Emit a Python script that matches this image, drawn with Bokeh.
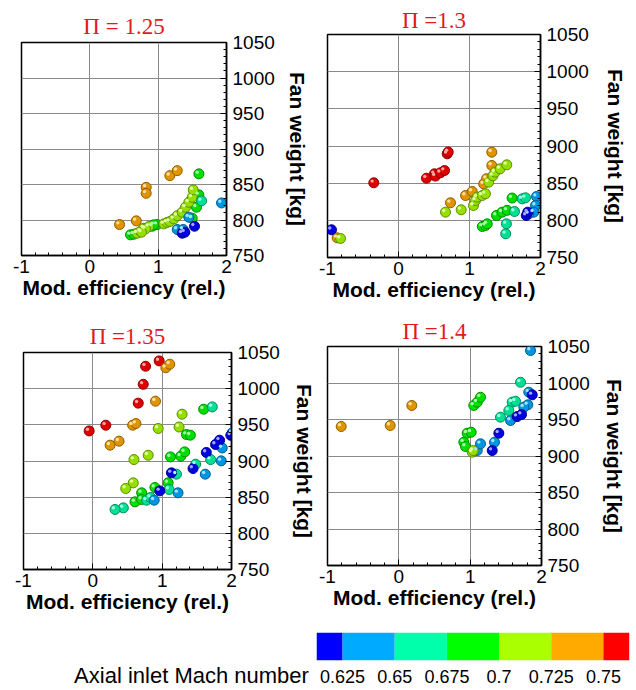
import numpy as np
from bokeh.plotting import figure
from bokeh.layouts import column, row
from bokeh.models import (Range1d, FixedTicker, LinearColorMapper, ColumnDataSource)
from bokeh.transform import transform
from bokeh.embed import file_html
from bokeh.resources import INLINE

# ---------------- data ----------------
palette = ["#0000ff", "#00aaff", "#00ffaa", "#00ff00", "#aaff00", "#ffaa00", "#ff0000"]
mach_low, mach_high = 0.6, 0.775
cb_edges = [0.6125, 0.625, 0.65, 0.675, 0.7, 0.725, 0.75, 0.7625]
cb_ticks = [0.625, 0.65, 0.675, 0.7, 0.725, 0.75]
cb_tick_labels = ["0.625", "0.65", "0.675", "0.7", "0.725", "0.75"]
cb_title = "Axial inlet Mach number"

titles = ["\u03a0 = 1.25", "\u03a0 =1.3", "\u03a0 =1.35", "\u03a0 =1.4"]
x_ticks = [-1, 0, 1, 2]
y_ticks = [750, 800, 850, 900, 950, 1000, 1050]

# Pi = 1.25
eff_125 = [0.435, 0.680, 0.825, 0.825, 1.171, 1.279,
           1.596, 1.595, 1.561, 1.498, 0.986, 0.913, 0.595, 0.644, 0.936,
           0.693, 0.741, 0.790, 0.864, 0.815, 0.756, 1.083, 1.130, 1.171, 1.229, 1.279,
           1.352, 1.400, 1.449, 1.498, 1.513,
           1.635,
           1.927, 1.449, 1.279, 1.366,
           1.352, 1.390, 1.532]
wt_125 = [793.6, 798.8, 846.0, 837.6, 862.5, 869.5,
          865.0, 835.4, 818.0, 802.5, 793.6, 791.2, 779.1, 780.0, 793.2,
          781.4, 784.0, 788.4, 790.8, 787.5, 782.8, 794.6, 796.5, 797.8, 801.6, 806.0,
          811.0, 818.0, 825.0, 832.0, 842.4,
          827.0,
          824.0, 803.9, 786.6, 786.6,
          781.4, 782.8, 791.2]
mach_125 = [0.74] * 6 + [0.69] * 9 + [0.71] * 16 + [0.66] + [0.64] * 4 + [0.62] * 3

# Pi = 1.3
eff_130 = [-0.348, 0.394, 0.507, 0.520, 0.592, 0.648, 0.686, 0.700,
           -0.864, 0.732, 0.944, 1.038, 1.200, 1.240, 1.314, 1.314,
           -0.817, 0.662, 0.883, 1.056, 1.085, 1.108, 1.180, 1.225, 1.270, 1.330, 1.360, 1.430, 1.525,
           1.180, 1.225, 1.250, 1.380, 1.460, 1.530, 1.600,
           1.634, 1.520, 1.510, 1.742, 1.789,
           1.944, 1.930, 1.905, 1.835,
           -0.944, 1.800, 1.820]
wt_130 = [850.5, 856.7, 862.6, 859.5, 864.0, 867.0, 889.5, 892.0,
          776.5, 823.6, 833.4, 838.8, 849.0, 856.0, 873.8, 891.7,
          775.6, 811.0, 814.2, 820.0, 826.7, 831.2, 833.4, 835.7, 851.3, 860.0, 864.8, 869.3, 874.7,
          791.7, 793.0, 795.3, 806.5, 811.0, 813.5, 830.0,
          811.9, 795.3, 781.9, 828.9, 830.3,
          832.0, 820.0, 811.0, 808.8,
          787.3, 806.5, 811.0]
mach_130 = [0.76] * 8 + [0.74] * 8 + [0.71] * 13 + [0.69] * 7 + [0.66] * 5 + [0.64] * 4 + [0.62] * 3

# Pi = 1.35
eff_135 = [-0.053, 0.187, 0.655, 0.727, 0.761, 0.957,
           0.249, 0.378, 0.574, 0.622, 0.904, 1.053, 1.110,
           0.943, 1.244, 1.287, 0.593, 0.799, 0.583, 0.474,
           1.598, 1.350, 1.407, 1.120, 1.268, 1.325, 1.086, 0.895, 0.704, 0.608, 0.704,
           1.723, 1.699, 1.483, 1.206, 1.100, 0.775, 0.832, 0.440, 0.320,
           2.010, 2.060, 1.866, 1.852, 1.622, 1.229, 0.885,
           1.990, 1.828, 1.770, 1.637, 1.445, 1.134, 0.966]
wt_135 = [941.6, 949.5, 980.0, 1006.0, 1031.0, 1038.4,
          921.9, 927.4, 949.5, 951.8, 982.7, 1029.0, 1033.8,
          945.0, 947.0, 964.7, 902.0, 908.0, 869.8, 862.0,
          971.6, 936.6, 935.7, 905.7, 906.6, 912.6, 869.8, 863.4, 856.0, 843.5, 846.8,
          974.8, 902.0, 895.6, 881.8, 860.6, 845.8, 849.5, 835.2, 833.0,
          939.0, 950.0, 918.0, 900.2, 881.8, 856.0, 845.8,
          935.5, 928.8, 922.8, 911.8, 889.6, 883.6, 858.7]
mach_135 = [0.76] * 6 + [0.74] * 7 + [0.71] * 7 + [0.69] * 11 + [0.66] * 9 + [0.64] * 7 + [0.62] * 7

# Pi = 1.4
eff_140 = [-0.808, -0.121, 0.182,
           1.846, 1.822, 1.808, 1.752, 1.566, 1.341, 1.099, 1.145,
           1.706, 1.589, 1.636, 1.542, 1.425,
           1.870, 1.659, 1.720, 1.402, 1.309,
           1.051, 1.099, 1.145, 0.958, 1.014, 0.911, 0.935,
           1.028, 1.043]
wt_140 = [940.4, 941.8, 969.2,
          1044.5, 987.4, 970.1, 966.8, 948.6, 918.9, 907.5, 916.7,
          1001.0, 973.7, 975.0, 962.3, 953.2,
          983.8, 954.0, 956.8, 931.2, 907.5,
          969.2, 973.7, 980.5, 931.2, 932.6, 918.9, 913.0,
          905.2, 907.5]
mach_140 = [0.74] * 3 + [0.64] * 8 + [0.66] * 5 + [0.62] * 5 + [0.69] * 7 + [0.71] * 2

# ---------------- styling helpers ----------------
def shade(hexcol, f):
    r, g, b = int(hexcol[1:3], 16), int(hexcol[3:5], 16), int(hexcol[5:7], 16)
    return "#%02x%02x%02x" % (int(r * f), int(g * f), int(b * f))

def tint(hexcol, f):
    r, g, b = int(hexcol[1:3], 16), int(hexcol[3:5], 16), int(hexcol[5:7], 16)
    return "#%02x%02x%02x" % (int(r + (255 - r) * f), int(g + (255 - g) * f), int(b + (255 - b) * f))

pal_fill = [shade(c, 0.88) for c in palette]
pal_line = [shade(c, 0.55) for c in palette]
pal_high = [tint(c, 0.65) for c in palette]

map_fill = LinearColorMapper(palette=pal_fill, low=mach_low, high=mach_high)
map_line = LinearColorMapper(palette=pal_line, low=mach_low, high=mach_high)
map_high = LinearColorMapper(palette=pal_high, low=mach_low, high=mach_high)
map_base = LinearColorMapper(palette=palette, low=mach_low, high=mach_high)

SANS = "Liberation Sans"


def make_panel(title, xs, ys, ms, bl, fw, br, bt, fh, bb, lab_standoff, t_standoff):
    p = figure(width=bl + fw + br, height=bt + fh + bb,
               x_range=Range1d(-1, 2), y_range=Range1d(750, 1050),
               y_axis_location="right", output_backend="svg", toolbar_location=None,
               min_border_left=bl, min_border_right=br, min_border_top=bt, min_border_bottom=bb,
               title=title)
    p.title.text_font = "Liberation Serif"
    p.title.text_font_size = "23px"
    p.title.text_font_style = "normal"
    p.title.text_color = "#e3191c"
    p.title.align = "center"
    p.title.standoff = t_standoff

    p.outline_line_color = "black"
    p.outline_line_width = 1.5
    p.background_fill_color = "white"
    p.border_fill_color = "white"

    p.xgrid.ticker = FixedTicker(ticks=[0, 1])
    p.ygrid.ticker = FixedTicker(ticks=[800, 850, 900, 950, 1000])
    for g in (p.xgrid[0], p.ygrid[0]):
        g.grid_line_color = "#8a8a8a"
        g.grid_line_width = 1

    xa = p.xaxis[0]
    xa.ticker = FixedTicker(ticks=x_ticks, minor_ticks=list(np.round(np.arange(-1, 2.001, 0.2), 2)))
    xa.major_label_overrides = {t: str(t) for t in x_ticks}
    xa.axis_label = "Mod. efficiency (rel.)"
    ya = p.yaxis[0]
    ya.ticker = FixedTicker(ticks=y_ticks, minor_ticks=list(range(750, 1051, 10)))
    ya.axis_label = "Fan weight [kg]"
    for a in (xa, ya):
        a.axis_line_color = "black"
        a.axis_line_width = 1.5
        a.major_tick_in = 6
        a.major_tick_out = 0
        a.minor_tick_in = 3
        a.minor_tick_out = 0
        a.major_tick_line_color = "black"
        a.minor_tick_line_color = "black"
        a.major_label_text_font = SANS
        a.major_label_text_font_size = "19px"
        a.major_label_text_color = "black"
        a.axis_label_text_font = SANS
        a.axis_label_text_font_size = "21px"
        a.axis_label_text_font_style = "bold"
        a.axis_label_text_color = "black"
    xa.major_label_standoff = 4
    xa.axis_label_standoff = 0
    ya.major_label_standoff = 6
    ya.axis_label_standoff = lab_standoff

    x = np.array(xs, dtype=float)
    y = np.array(ys, dtype=float)
    dx = 3.0 / fw
    dy = 300.0 / fh
    src = ColumnDataSource(dict(x=x, y=y, m=ms, hx=x - 1.7 * dx, hy=y + 1.7 * dy))
    p.scatter("x", "y", source=src, size=10,
              fill_color=transform("m", map_fill), line_color=transform("m", map_line), line_width=1)
    p.scatter("hx", "hy", source=src, size=3.4,
              fill_color=transform("m", map_high), line_color=None)
    return p


p1 = make_panel(titles[0], eff_125, wt_125, mach_125, 21, 205, 92, 42, 213, 55, 8, 8)
p2 = make_panel(titles[1], eff_130, wt_130, mach_130, 9, 213, 96, 34, 223, 53, 12, 3)
p3 = make_panel(titles[2], eff_135, wt_135, mach_135, 23, 209, 86, 42, 217, 51, 10, 8)
p4 = make_panel(titles[3], eff_140, wt_140, mach_140, 9, 214, 95, 36, 219, 55, 10, 5)

# ---------------- colour bar ----------------
lab = figure(width=316, height=70, x_range=Range1d(0, 1), y_range=Range1d(0, 1),
             output_backend="svg", toolbar_location=None,
             min_border_left=66, min_border_right=0, min_border_top=12, min_border_bottom=29)
lab.outline_line_color = None
lab.yaxis.visible = False
lab.grid.visible = False
la = lab.xaxis[0]
la.ticker = FixedTicker(ticks=[])
la.axis_line_color = None
la.major_tick_line_color = None
la.minor_tick_line_color = None
la.axis_label = cb_title
la.axis_label_text_font = SANS
la.axis_label_text_font_size = "22px"
la.axis_label_text_font_style = "normal"
la.axis_label_text_color = "black"
la.axis_label_standoff = 2

cb = figure(width=320, height=70, x_range=Range1d(cb_edges[0], cb_edges[-1]), y_range=Range1d(0, 1),
            output_backend="svg", toolbar_location=None,
            min_border_left=0, min_border_right=7, min_border_top=12, min_border_bottom=29)
cb.outline_line_color = None
cb.xgrid.visible = False
cb.ygrid.visible = False
cb.yaxis.visible = False
cb_src = ColumnDataSource(dict(left=cb_edges[:-1], right=cb_edges[1:],
                               mid=[(a + b) / 2 for a, b in zip(cb_edges[:-1], cb_edges[1:])]))
cb.quad(left="left", right="right", bottom=0, top=1, source=cb_src,
        fill_color=transform("mid", map_base), line_color=None)
ax = cb.xaxis[0]
ax.ticker = FixedTicker(ticks=cb_ticks)
ax.major_label_overrides = {t: l for t, l in zip(cb_ticks, cb_tick_labels)}
ax.axis_line_color = None
ax.major_tick_line_color = None
ax.minor_tick_line_color = None
ax.major_label_text_font = SANS
ax.major_label_text_font_size = "18px"
ax.major_label_text_color = "black"
ax.major_label_standoff = 3

layout = column(row(column(p1), column(p2)), row(column(p3), column(p4)), row(lab, cb))
open("out.html", "w").write(file_html(layout, INLINE))
